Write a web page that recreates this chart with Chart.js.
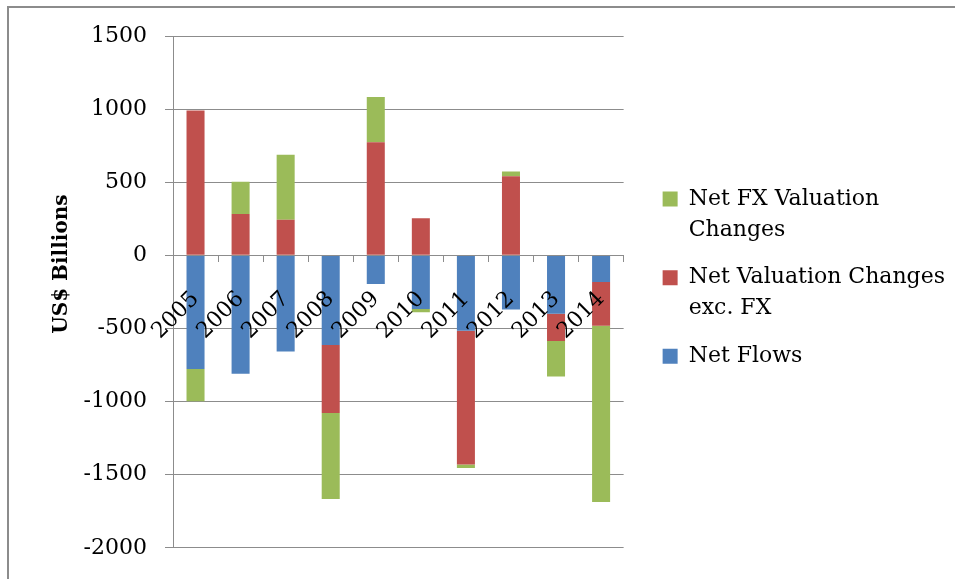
<!DOCTYPE html>
<html>
<head>
<meta charset="utf-8">
<script src="https://cdn.jsdelivr.net/npm/chart.js@4.4.1/dist/chart.umd.min.js"></script>
<style>
  body { margin: 0; background: #fff; }
  #wrap { position: relative; width: 955px; height: 579px; }
  #frame {
    position: absolute; left: 7px; top: 6px; right: 0; bottom: 0;
    border-top: 2px solid #8c8c8c; border-left: 2px solid #8c8c8c;
    pointer-events: none;
  }
</style>
</head>
<body>
<div id="wrap">
  <canvas id="flowsChart" width="955" height="579"></canvas>
  <div id="frame"></div>
</div>
<script>
// values, US$ billions
const years = ['2005', '2006', '2007', '2008', '2009', '2010', '2011', '2012', '2013', '2014'];
const netFlows = [-778, -809, -658, -613, -196, -367, -516, -370, -399, -183];
const netValuationExFx = [990, 282, 244, -465, 774, 253, -914, 541, -187, -299];
const netFxValuation = [-219, 221, 444, -589, 309, -23, -25, 32, -242, -1205];
const yTicks = [1500, 1000, 500, 0, -500, -1000, -1500, -2000];

const gridGrey = '#8c8c8c';
const serif = "'DejaVu Serif', serif";

document.addEventListener("DOMContentLoaded", function() {
    const ctx = document.getElementById('flowsChart').getContext('2d');

    new Chart(ctx, {
        type: 'bar',
        data: {
            labels: years,
            datasets: [{
                label: ['Net Flows', ''],   // empty line lifts the legend block a bit
                data: netFlows,
                backgroundColor: '#4F81BD'
            }, {
                label: ['Net Valuation Changes', 'exc. FX'],
                data: netValuationExFx,
                backgroundColor: '#C0504D'
            }, {
                label: ['Net FX Valuation', 'Changes'],
                data: netFxValuation,
                backgroundColor: '#9BBB59'
            }]
        },
        options: {
            responsive: false,
            devicePixelRatio: 1,
            animation: false,
            categoryPercentage: 1,
            barPercentage: 0.4,
            layout: {
                padding: { left: 0, top: 36, right: 0, bottom: 20 }
            },
            scales: {
                x: {
                    stacked: true,
                    position: { y: 0 },
                    afterFit: function(scale) { scale.height = 0; },
                    grid: {
                        offset: true,
                        drawOnChartArea: false,
                        tickLength: 6,
                        color: gridGrey
                    },
                    border: { display: true, color: gridGrey, z: 1 },
                    ticks: {
                        z: 2,   // year labels sit on top of the bars
                        minRotation: 45,
                        maxRotation: 45,
                        padding: 25,
                        labelOffset: 0,
                        color: '#000',
                        font: { family: serif, size: 22 }
                    }
                },
                y: {
                    stacked: true,
                    min: -2000,
                    max: 1500,
                    afterFit: function(scale) { scale.width = 173; },
                    afterBuildTicks: function(scale) {
                        scale.ticks = yTicks.map(v => ({ value: v }));
                    },
                    grid: {
                        color: gridGrey,
                        tickLength: 8
                    },
                    border: { display: true, color: gridGrey },
                    ticks: {
                        padding: 18,
                        color: '#000',
                        font: { family: serif, size: 22 },
                        callback: v => String(v)
                    },
                    title: {
                        display: true,
                        text: '        US$ Billions',
                        color: '#000',
                        padding: { top: 50, bottom: 0 },
                        font: { family: serif, size: 20, weight: 'bold' }
                    }
                },
                // empty spacer between plot and legend
                gap: {
                    axis: 'y',
                    position: 'right',
                    display: true,
                    afterFit: function(scale) { scale.width = 22; },
                    grid: { display: false },
                    border: { display: false },
                    ticks: { display: false }
                }
            },
            plugins: {
                legend: {
                    position: 'right',
                    reverse: true,
                    maxWidth: 400,
                    labels: {
                        boxWidth: 15,
                        boxHeight: 15,
                        padding: 17,
                        color: '#000',
                        font: { family: serif, size: 22, lineHeight: 1.4 }
                    }
                },
                tooltip: { enabled: false }
            }
        }
    });
});
</script>
</body>
</html>
